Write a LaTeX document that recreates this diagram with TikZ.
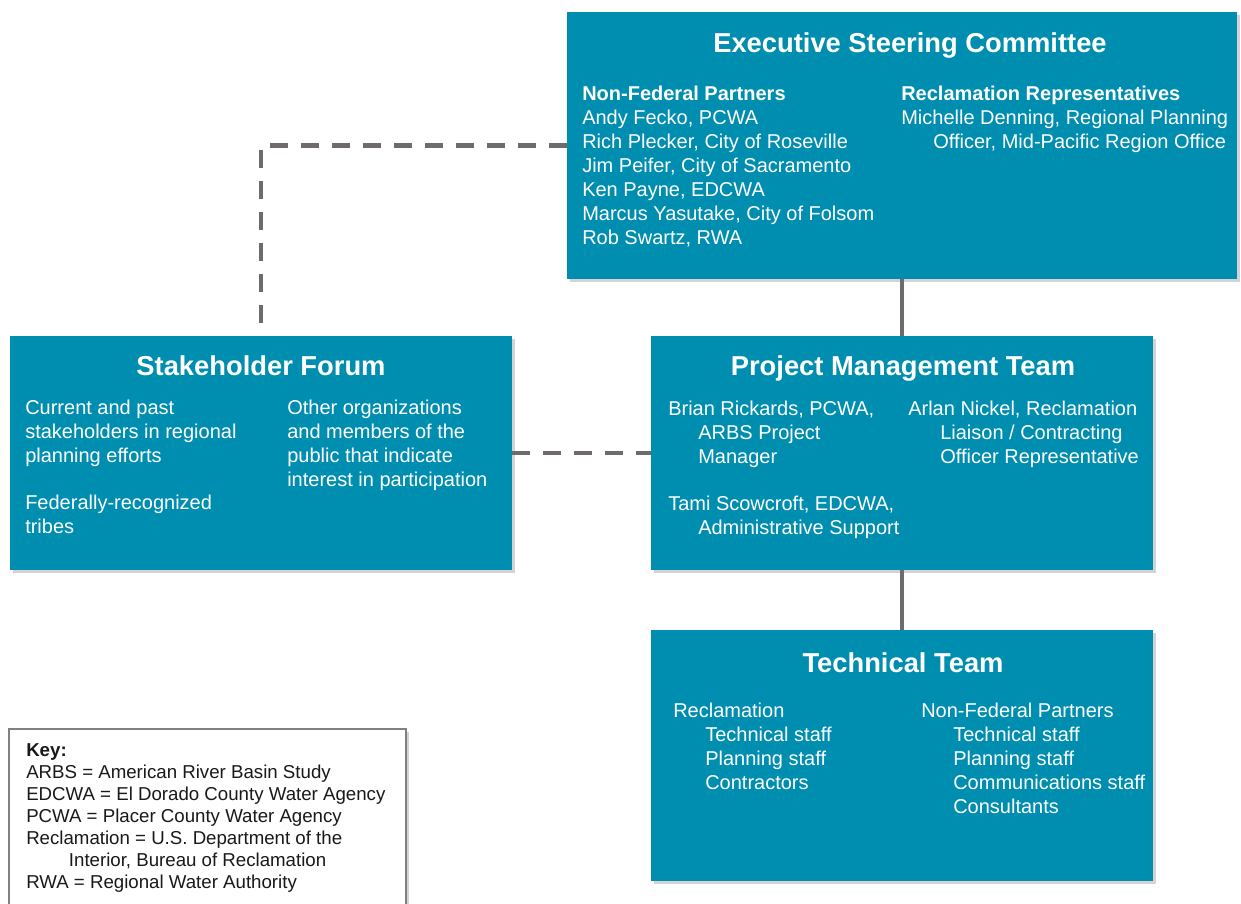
\documentclass[tikz,border=0pt]{standalone}
\usepackage{fontspec}
\setmainfont{Liberation Sans}
\usetikzlibrary{shadows}

\definecolor{boxblue}{RGB}{0,142,176}
\definecolor{linkgray}{RGB}{110,106,110}
\definecolor{keygray}{RGB}{128,128,128}

\begin{document}
\begin{tikzpicture}[
            x=0.75pt, y=-0.75pt,
            box/.style={fill=boxblue, draw=none, inner sep=0pt,
                drop shadow={shadow xshift=2pt, shadow yshift=-2pt, opacity=0.35}},
            keyframe/.style={fill=white, draw=keygray, line width=1.2pt, inner sep=0pt,
                drop shadow={shadow xshift=2pt, shadow yshift=-2pt, opacity=0.35}},
            title/.style={text=white, font=\fontsize{20.5}{24}\selectfont\bfseries, anchor=base},
            body/.style={text=white, font=\fontsize{15}{18}\selectfont, anchor=north west,
                align=left, inner sep=0pt},
            keytext/.style={text=black!90, font=\fontsize{14}{16.5}\selectfont, anchor=north west,
                align=left, inner sep=0pt},
            solid link/.style={draw=linkgray, line width=3.2pt},
            dash link/.style={draw=linkgray, line width=3.5pt, dash pattern=on 13.5pt off 9.75pt},
    ]
    \useasboundingbox (0,0) rectangle (1241,903);

    % boxes
    \node[box, minimum width=502.5pt, minimum height=200.25pt] (esc) at (902,145.5) {};
    \node[box, minimum width=376.5pt, minimum height=175.5pt] (forum) at (261,453) {};
    \node[box, minimum width=376.5pt, minimum height=175.5pt] (pmt) at (902,453) {};
    \node[box, minimum width=376.5pt, minimum height=188.25pt] (tech) at (902,755.5) {};
    \node[keyframe, minimum width=297.75pt, minimum height=139.5pt] (keybox) at (207.5,822) {};

    % connectors
    \draw[solid link] (esc) -- (pmt);
    \draw[solid link] (pmt) -- (tech);
    \draw[dash link] (esc.west) -| (forum.north);
    \draw[dash link] (forum) -- (pmt);

    % executive steering committee
    \node[title] (esctitle) at (910,52) {Executive Steering Committee};
    \node[body] (escleft) at (582,86) {\textbf{Non-Federal Partners}\\Andy Fecko, PCWA\\Rich Plecker, City of Roseville\\Jim Peifer, City of Sacramento\\Ken Payne, EDCWA\\Marcus Yasutake, City of Folsom\\Rob Swartz, RWA};
    \node[body] (escright) at (901,86) {\textbf{Reclamation Representatives}\\Michelle Denning, Regional Planning\\\hspace*{24pt}Officer, Mid-Pacific Region Office};

    % stakeholder forum
    \node[title] (forumtitle) at (261,375) {Stakeholder Forum};
    \node[body] (forumleft) at (25,400) {Current and past\\stakeholders in regional\\planning efforts\\[17pt]Federally-recognized\\tribes};
    \node[body] (forumright) at (287,400) {Other organizations\\and members of the\\public that indicate\\interest in participation};

    % project management team
    \node[title] (pmttitle) at (903,375) {Project Management Team};
    \node[body] (pmtleft) at (668,401) {Brian Rickards, PCWA,\\\hspace*{22.5pt}ARBS Project\\\hspace*{22.5pt}Manager\\[17pt]Tami Scowcroft, EDCWA,\\\hspace*{22.5pt}Administrative Support};
    \node[body] (pmtright) at (908,401) {Arlan Nickel, Reclamation\\\hspace*{24pt}Liaison / Contracting\\\hspace*{24pt}Officer Representative};

    % technical team
    \node[title] (techtitle) at (903,672) {Technical Team};
    \node[body] (techleft) at (673,703) {Reclamation\\\hspace*{24pt}Technical staff\\\hspace*{24pt}Planning staff\\\hspace*{24pt}Contractors};
    \node[body] (techright) at (921,703) {Non-Federal Partners\\\hspace*{24pt}Technical staff\\\hspace*{24pt}Planning staff\\\hspace*{24pt}Communications staff\\\hspace*{24pt}Consultants};

    % key
    \node[keytext] (keylist) at (26,743) {\textbf{Key:}\\ARBS = American River Basin Study\\EDCWA = El Dorado County Water Agency\\PCWA = Placer County Water Agency\\Reclamation = U.S. Department of the\\\hspace*{32pt}Interior, Bureau of Reclamation\\RWA = Regional Water Authority};
    \end{tikzpicture}
\end{document}
